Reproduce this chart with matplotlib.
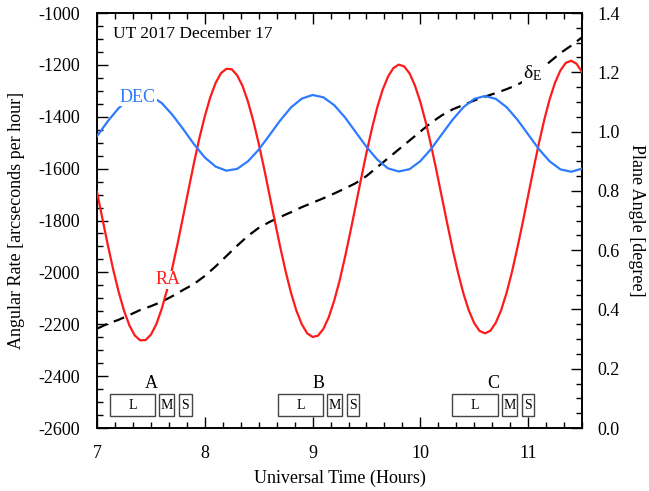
import numpy as np
import matplotlib.pyplot as plt
from matplotlib.ticker import MultipleLocator, FormatStrFormatter
from matplotlib.patches import Rectangle

plt.rcParams['font.family'] = ['Liberation Serif', 'DejaVu Serif']
plt.rcParams['axes.unicode_minus'] = False
plt.rcParams['mathtext.fontset'] = 'custom'
plt.rcParams['mathtext.rm'] = 'Liberation Serif'
plt.rcParams['mathtext.it'] = 'Liberation Serif'

# RA rate, every 0.05 h from 7.00 to 11.50 UT
ra_time = np.linspace(7.0, 11.5, 91)
ra_rate = [-1690, -1793, -1894, -1989, -2074, -2147, -2204, -2243, -2262, -2261,
           -2240, -2200, -2141, -2067, -1980, -1884, -1782, -1679, -1577, -1482,
           -1398, -1326, -1270, -1232, -1215, -1217, -1240, -1281, -1341, -1416,
           -1503, -1599, -1701, -1803, -1903, -1996, -2079, -2148, -2200, -2235,
           -2249, -2244, -2218, -2173, -2110, -2033, -1943, -1845, -1743, -1639,
           -1539, -1447, -1364, -1296, -1245, -1212, -1199, -1206, -1233, -1280,
           -1343, -1421, -1511, -1609, -1711, -1813, -1912, -2002, -2082, -2147,
           -2196, -2226, -2235, -2225, -2194, -2145, -2079, -1998, -1906, -1807,
           -1704, -1601, -1502, -1411, -1332, -1268, -1221, -1192, -1184, -1196,
           -1228]

# DEC rate, every 0.1 h
dec_time = np.linspace(7.0, 11.5, 46)
dec_rate = [-1475, -1417, -1367, -1330, -1314, -1320, -1347, -1393, -1448, -1506,
            -1557, -1592, -1608, -1601, -1572, -1527, -1471, -1414, -1364, -1330,
            -1316, -1325, -1355, -1402, -1459, -1516, -1565, -1599, -1611, -1602,
            -1571, -1524, -1467, -1411, -1363, -1331, -1320, -1331, -1363, -1411,
            -1468, -1525, -1572, -1603, -1612, -1600]

# plane angle delta_E, every 0.1 h
de_time = np.linspace(7.0, 11.5, 46)
de_angle = [0.335, 0.352, 0.365, 0.381, 0.398, 0.411, 0.426, 0.445, 0.466, 0.486,
            0.513, 0.545, 0.580, 0.615, 0.648, 0.675, 0.695, 0.712, 0.728, 0.745,
            0.760, 0.775, 0.791, 0.808, 0.826, 0.850, 0.880, 0.910, 0.940, 0.970,
            1.000, 1.030, 1.055, 1.075, 1.090, 1.105, 1.118, 1.130, 1.143, 1.158,
            1.178, 1.205, 1.235, 1.265, 1.290, 1.318]

# observation blocks (start, end) in hours
groups = ['A', 'B', 'C']
block_names = ['L', 'M', 'S']
blocks = [
    [(7.121, 7.538), (7.578, 7.717), (7.763, 7.878)],
    [(8.679, 9.096), (9.134, 9.273), (9.319, 9.434)],
    [(10.293, 10.720), (10.757, 10.896), (10.942, 11.054)],
]

RED = '#ff1a1a'
BLUE = '#2f7bff'

fig = plt.figure(figsize=(6.49, 4.91), dpi=100)
ax = fig.add_axes([0.1495, 0.1283, 0.7473, 0.8452])
ax2 = ax.twinx()

ax.plot(ra_time, ra_rate, color=RED, lw=1.6, zorder=3)
ax.plot(dec_time, dec_rate, color=BLUE, lw=1.6, zorder=3)
ax2.plot(de_time, de_angle, color='black', lw=1.6, dashes=(5, 3.2), zorder=3)

ax.set_xlim(7, 11.5)
ax.set_ylim(-2600, -1000)
ax2.set_ylim(0, 1.4)

ax.xaxis.set_major_locator(MultipleLocator(1))
ax.xaxis.set_minor_locator(MultipleLocator(1 / 6))
ax.yaxis.set_major_locator(MultipleLocator(200))
ax.yaxis.set_minor_locator(MultipleLocator(50))
ax.yaxis.set_major_formatter(FormatStrFormatter('%d'))
ax2.yaxis.set_major_locator(MultipleLocator(0.2))
ax2.yaxis.set_minor_locator(MultipleLocator(0.05))
ax2.yaxis.set_major_formatter(FormatStrFormatter('%.1f'))

ax.tick_params(axis='x', which='both', direction='in', top=True, pad=12, labelsize=13)
ax.tick_params(axis='y', which='both', direction='in', right=False, pad=12, labelsize=13)
ax2.tick_params(axis='y', which='both', direction='in', pad=11, labelsize=13)
for a in (ax, ax2):
    a.tick_params(which='major', length=8, width=1)
    a.tick_params(which='minor', length=4, width=1)
    for s in a.spines.values():
        s.set_linewidth(1.2)

ax.set_xlabel('Universal Time (Hours)', fontsize=13, labelpad=6)
ax.set_ylabel('Angular Rate [arcseconds per hour]', fontsize=13, labelpad=10)
ax2.set_ylabel('Plane Angle [degree]', fontsize=13, rotation=270, labelpad=18)

ax.text(7.15, -1080, 'UT 2017 December 17', fontsize=12.5, va='center', ha='left')
ax.text(7.38, -1324, 'DEC', color=BLUE, fontsize=13, ha='center', va='center',
        bbox=dict(facecolor='white', edgecolor='none', pad=0.5), zorder=5)
ax.text(7.66, -2029, 'RA', color=RED, fontsize=13, ha='center', va='center',
        bbox=dict(facecolor='white', edgecolor='none', pad=0.5), zorder=5)
ax.text(11.04, -1231, r'$\delta_\mathrm{E}$', color='black', fontsize=14, ha='center', va='center',
        bbox=dict(facecolor='white', edgecolor='none', pad=0.5), zorder=5)

for g, row in zip(groups, blocks):
    for name, (t0, t1) in zip(block_names, row):
        ax.add_patch(Rectangle((t0, -2555), t1 - t0, 85, fill=False, edgecolor='#444444', lw=1))
        ax.text((t0 + t1) / 2, -2512, name, fontsize=10, ha='center', va='center')
    ax.text((row[0][0] + row[-1][1]) / 2, -2428, g, fontsize=13, ha='center', va='center')

ax2.set_zorder(1)
ax.set_zorder(2)
ax.patch.set_visible(False)

fig.savefig('out.png', dpi=100)
